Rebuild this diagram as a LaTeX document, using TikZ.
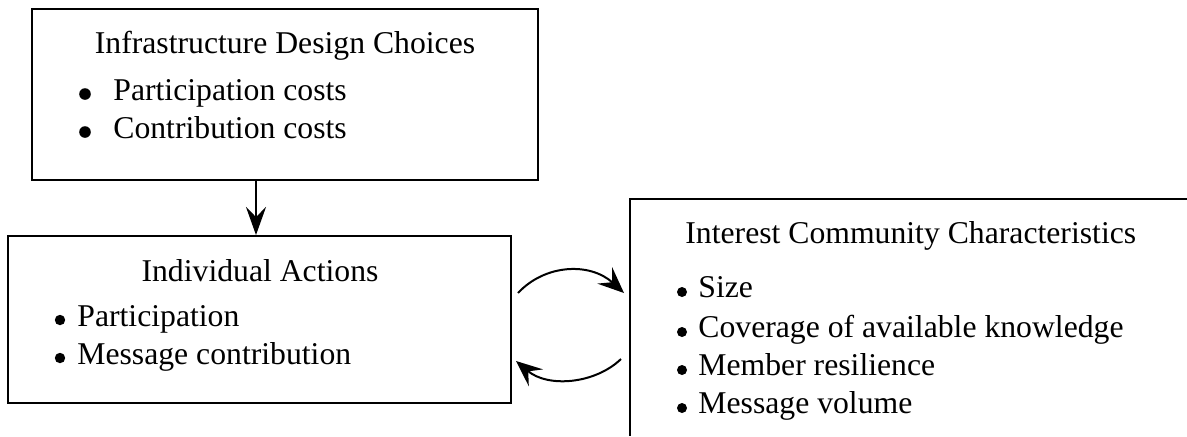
\documentclass[tikz,border=0pt]{standalone}
\usepackage{fontspec}
\setmainfont{Liberation Serif}
\usetikzlibrary{arrows.meta}
\tikzset{
  box/.style={draw, line width=1pt, inner sep=0pt},
  txt/.style={inner sep=0pt, font=\fontsize{15.85pt}{19pt}\selectfont},
  item/.style={txt, anchor=base west},
  ttl/.style={txt, anchor=base},
  conn/.style={line width=1pt, -{Stealth[length=13pt, width=11pt, inset=5pt]}},
  down/.style={line width=0.7pt, -{Stealth[length=14pt, width=10pt, inset=5pt]}},
  bul/.style={fill=black}
}
\begin{document}
\begin{tikzpicture}[x=0.5pt, y=-0.5pt]
\useasboundingbox (0,0) rectangle (1187,436);
% boxes
\node[box, minimum width=253pt, minimum height=85.5pt] (b1) at (285,94.5) {};
\node[box, minimum width=251.5pt, minimum height=83.5pt] (b2) at (259.5,319.5) {};
\coordinate (b3tr) at (1187,199);
\coordinate (b3tl) at (630,199);
\coordinate (b3bl) at (630,436);
\draw[line width=1pt] (b3tr) -- (b3tl) -- (b3bl);

% box 1 text
\node[ttl] (t1) at (285,53) {Infrastructure Design Choices};
\node[item] (t1a) at (113,100) {Participation costs};
\node[item] (t1b) at (113,138) {Contribution costs};
\fill[bul] (85,94) circle (2.9pt);
\fill[bul] (85,132) circle (2.9pt);

% box 2 text
\node[ttl] (t2) at (260,281) {Individual Actions};
\node[item] (t2a) at (77,326) {Participation};
\node[item] (t2b) at (77,364) {Message contribution};
\fill[bul] (60,320) circle (2.6pt);
\fill[bul] (60,358) circle (2.6pt);

% box 3 text
\node[item] (t3) at (685,243) {Interest Community Characteristics};
\node[item] (t3a) at (698,297) {Size};
\node[item] (t3b) at (698,337) {Coverage of available knowledge};
\node[item] (t3c) at (698,375) {Member resilience};
\node[item] (t3d) at (698,413) {Message volume};
\fill[bul] (682,292) circle (2.5pt);
\fill[bul] (682,332) circle (2.5pt);
\fill[bul] (682,370) circle (2.5pt);
\fill[bul] (682,408) circle (2.5pt);

% connectors
\draw[down] (b1.south -| 256,0) -- (b2.north -| 256,0);
\coordinate (r1) at (518,293);
\coordinate (r2) at (624,293);
\coordinate (l1) at (621,359);
\coordinate (l2) at (516,361);
\draw[conn] (r1) .. controls (545,264) and (590,262) .. (r2);
\draw[conn] (l1) .. controls (595,384) and (548,388) .. (l2);
\end{tikzpicture}
\end{document}
